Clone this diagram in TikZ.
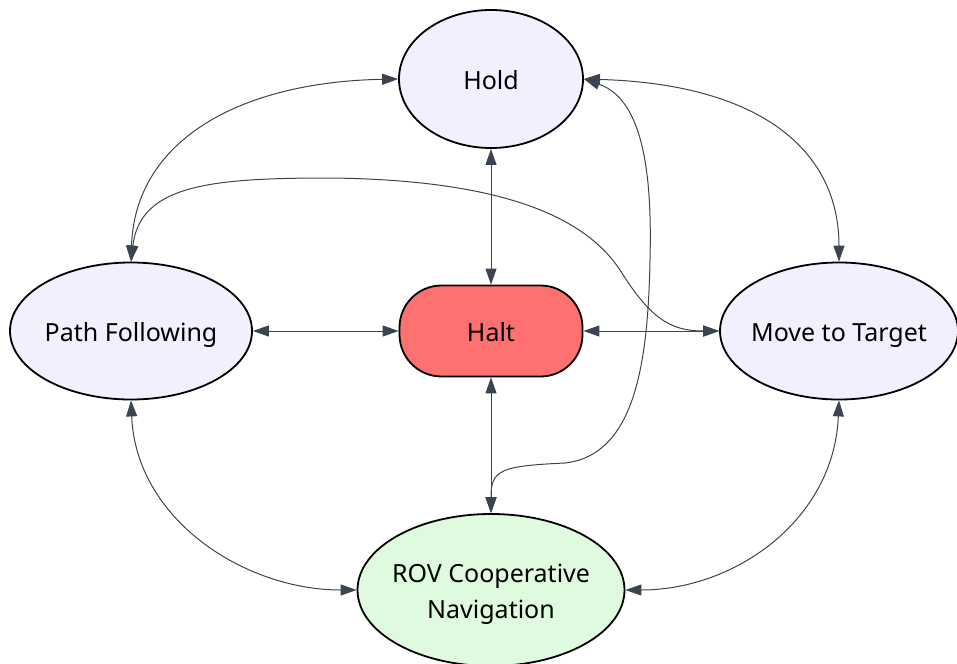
\documentclass[tikz,border=0pt]{standalone}
\usepackage{fontspec}
\setmainfont{Noto Sans}
\usetikzlibrary{shapes.geometric,arrows.meta}
\definecolor{statefill}{HTML}{F0F0FF}
\definecolor{haltfill}{HTML}{FF7070}
\definecolor{rovfill}{HTML}{E0FAE0}
\definecolor{edgecol}{HTML}{3D4451}
\tikzset{
  labelfont/.style={font=\fontsize{25}{36}\selectfont, text height=21.8pt, text depth=0pt},
  state/.style={ellipse, draw=black, line width=1.8pt, fill=statefill,
    inner xsep=-30pt, inner ysep=0pt, labelfont, align=center},
  haltbox/.style={rectangle, rounded corners=42pt, draw=black, line width=1.8pt, fill=haltfill,
    minimum width=183pt, minimum height=91pt, inner sep=0pt, labelfont},
  link/.style={draw=edgecol, line width=1pt,
    {Triangle[length=16pt,width=11pt]}-{Triangle[length=16pt,width=11pt]}},
}
\begin{document}
\begin{tikzpicture}[x=1pt,y=-1pt]
\useasboundingbox (0,0) rectangle (957,663);

% states
\node[state, minimum width=184pt, minimum height=138pt] (hold) at (491,79) {Hold};
\node[state, minimum width=242pt, minimum height=137pt] (pf) at (131,331) {Path Following};
\node[state, minimum width=238pt, minimum height=137pt] (mtt) at (839,331) {Move to Target};
\node[haltbox] (halt) at (491,331) {Halt};
\node[state, fill=rovfill, minimum width=267pt, minimum height=152pt, text height=57.8pt]
  (rov) at (491,590) {ROV Cooperative\\Navigation};

% straight transitions
\draw[link] (hold.south) -- (halt.north);
\draw[link] (halt.south) -- (rov.north);
\draw[link] (pf.east) -- (halt.west);
\draw[link] (halt.east) -- (mtt.west);

% curved transitions
\draw[link] (pf.north) .. controls (135,140) and (240,82) .. (hold.west);
\draw[link] (hold.east) .. controls (760,84) and (839,150) .. (mtt.north);
\draw[link] (pf.south) .. controls (136,520) and (245,590) .. (rov.west);
\draw[link] (mtt.south) .. controls (834,520) and (735,590) .. (rov.east);

% long transitions
\draw[link] (pf.north) .. controls (140,185) and (210,178) .. (330,178)
  .. controls (520,180) and (590,225) .. (620,270)
  .. controls (650,318) and (670,331) .. (mtt.west);
\draw[link] (hold.east) .. controls (645,100) and (652,180) .. (650,260)
  .. controls (648,360) and (636,455) .. (565,463)
  .. controls (500,466) and (491,470) .. (rov.north);
\end{tikzpicture}
\end{document}
